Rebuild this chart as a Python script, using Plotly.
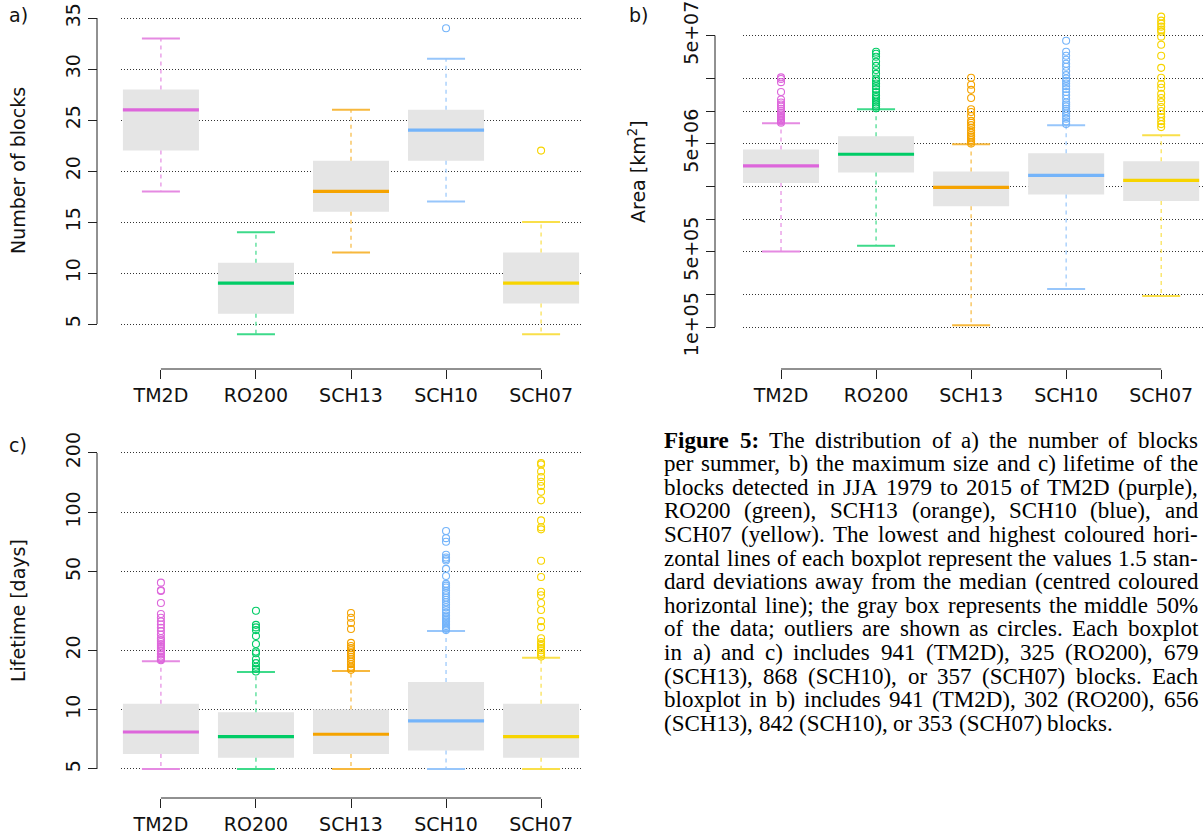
import math
import plotly.graph_objects as go

W, H = 1203, 837

cats = ["TM2D", "RO200", "SCH13", "SCH10", "SCH07"]
colors = ["#DD66DB", "#00CC66", "#F5A300", "#74B4FA", "#F7D400"]
whisker_colors = ["#E58AE2", "#3DDA8A", "#F7B83D", "#97C6FB", "#F9DF4A"]

# ---- panel a: number of blocks per summer ----
a_low = [18, 4, 12, 17, 4]
a_q1 = [22, 6, 16, 21, 7]
a_med = [26, 9, 18, 24, 9]
a_q3 = [28, 11, 21, 26, 12]
a_high = [33, 14, 26, 31, 15]
a_out = [[], [], [], [34], [22]]
a_ticks = [5, 10, 15, 20, 25, 30, 35]

# ---- panel b: maximum area [km2] ----
b_low = [5.0e5, 5.66e5, 1.04e5, 2.25e5, 1.94e5]
b_q1 = [2.16e6, 2.7e6, 1.31e6, 1.69e6, 1.47e6]
b_med = [3.1e6, 3.98e6, 1.96e6, 2.54e6, 2.28e6]
b_q3 = [4.4e6, 5.85e6, 2.76e6, 4.07e6, 3.43e6]
b_high = [7.7e6, 1.04e7, 4.93e6, 7.4e6, 5.98e6]
b_out = [
    [7.8e6, 8.0e6, 8.2e6, 8.4e6, 8.6e6, 8.8e6, 9.0e6, 9.3e6, 9.6e6, 1.0e7, 1.05e7,
     1.1e7, 1.15e7, 1.2e7, 1.28e7, 1.5e7, 1.85e7, 1.98e7, 2.05e7],
    [1.06e7, 1.1e7, 1.15e7, 1.2e7, 1.25e7, 1.3e7, 1.35e7, 1.4e7, 1.5e7, 1.6e7, 1.7e7,
     1.8e7, 1.9e7, 2.0e7, 2.21e7, 2.4e7, 2.62e7, 2.86e7, 3.18e7, 3.39e7, 3.54e7],
    [5.0e6, 5.2e6, 5.4e6, 5.6e6, 5.8e6, 6.0e6, 6.3e6, 6.6e6, 7.0e6, 7.4e6, 7.8e6,
     8.1e6, 9.0e6, 9.8e6, 1.04e7, 1.32e7, 1.57e7, 1.75e7, 2.03e7],
    [7.6e6, 8.0e6, 8.5e6, 9.0e6, 9.5e6, 1.0e7, 1.05e7, 1.1e7, 1.15e7, 1.2e7, 1.3e7,
     1.4e7, 1.5e7, 1.6e7, 1.7e7, 1.8e7, 1.9e7, 2.0e7, 2.15e7, 2.35e7, 2.57e7, 2.74e7,
     2.98e7, 3.25e7, 3.54e7, 4.48e7],
    [7.1e6, 7.57e6, 8.07e6, 8.8e6, 9.38e6, 1.0e7, 1.09e7, 1.21e7, 1.32e7, 1.44e7,
     1.64e7, 1.78e7, 2.03e7, 2.51e7, 3.25e7, 4.11e7, 4.88e7, 5.43e7, 5.67e7, 6.04e7,
     6.45e7, 6.87e7, 7.49e7],
]
b_major_ticks = [1e5, 5e5, 5e6, 5e7]
b_major_text = ["1e+05", "5e+05", "5e+06", "5e+07"]
b_minor_ticks = [2e5, 1e6, 2e6, 1e7, 2e7]

# ---- panel c: lifetime [days] ----
c_low = [5, 5, 5, 5, 5]
c_q1 = [5.96, 5.7, 5.96, 6.2, 5.7]
c_med = [7.7, 7.3, 7.5, 8.76, 7.3]
c_q3 = [10.7, 9.7, 10.0, 13.8, 10.7]
c_high = [17.6, 15.5, 15.7, 25.0, 18.3]
c_out = [
    [17.8, 18.0, 18.3, 18.6, 19.0, 19.3, 19.7, 20.0, 20.5, 21.0, 21.5, 22.0, 22.5,
     23.0, 24.0, 25.0, 26.0, 27.0, 28.0, 29.2, 30.5, 34.7, 39.9, 40.3, 44.0],
    [15.6, 16.1, 16.5, 17.2, 18.0, 19.3, 19.7, 21.5, 23.6, 25.3, 26.1, 26.9, 31.7],
    [15.9, 16.2, 16.5, 17.0, 17.5, 18.0, 18.5, 19.0, 19.5, 20.0, 20.5, 21.0, 21.8,
     25.6, 27.5, 29.2, 30.9],
    [25.3, 25.7, 26.0, 26.5, 27.0, 27.5, 28.0, 28.5, 29.0, 29.5, 30.0, 31.0, 32.0,
     33.0, 34.0, 35.0, 36.0, 37.0, 38.0, 39.0, 40.0, 41.6, 42.5, 43.4, 47.6, 51.7,
     57.0, 58.0, 59.0, 61.0, 71.0, 74.0, 80.5],
    [18.6, 19.0, 19.4, 20.0, 20.5, 21.0, 21.5, 22.0, 23.0, 26.2, 28.1, 32.0, 34.7,
     38.0, 39.6, 47.0, 56.8, 82.0, 84.0, 91.0, 115.0, 127.0, 136.0, 143.0, 151.0,
     161.0, 175.0, 178.0],
]
c_ticks = [5, 10, 20, 50, 100, 200]

caption_lines = [
    "**Figure **5: The distribution of a) the number of blocks",
    "per summer, b) the maximum size and c) lifetime of the",
    "blocks detected in JJA 1979 to 2015 of TM2D (purple),",
    "RO200 (green), SCH13 (orange), SCH10 (blue), and",
    "SCH07 (yellow). The lowest and highest coloured hori-",
    "zontal lines of each boxplot represent the values 1.5 stan-",
    "dard deviations away from the median (centred coloured",
    "horizontal line); the gray box represents the middle 50%",
    "of the data; outliers are shown as circles. Each boxplot",
    "in a) and c) includes 941 (TM2D), 325 (RO200), 679",
    "(SCH13), 868 (SCH10), or 357 (SCH07) blocks. Each",
    "bloxplot in b) includes 941 (TM2D), 302 (RO200), 656",
    "(SCH13), 842 (SCH10), or 353 (SCH07) blocks.",
]
caption_bold_words = 2  # "Figure 5:" is bold


def PX(p):
    return p / W


def PY(p):
    return 1 - p / H


SANS = "DejaVu Sans"
SERIF = "Liberation Serif"
AX = "#222222"
HW = 0.4   # half box width
CW = 0.2   # half cap width

panels = [
    dict(xa="x", ya="y", low=a_low, q1=a_q1, med=a_med, q3=a_q3, high=a_high, out=a_out,
         xdom=(121, 581), xrng=(-0.42, 4.42), xpos=369,
         ydom=(346.44, 15.96), yrng=(2.8, 35.2), ytype="linear", ypos=97,
         ticks=a_ticks, ticktext=[str(t) for t in a_ticks], minor=None),
    dict(xa="x2", ya="y2", low=b_low, q1=b_q1, med=b_med, q3=b_q3, high=b_high, out=b_out,
         xdom=(743, 1203), xrng=(-0.4, 4.44), xpos=369,
         ydom=(337.2, 4.1), yrng=(4.906, 7.99), ytype="log", ypos=715,
         ticks=b_major_ticks, ticktext=b_major_text, minor=b_minor_ticks),
    dict(xa="x3", ya="y3", low=c_low, q1=c_q1, med=c_med, q3=c_q3, high=c_high, out=c_out,
         xdom=(121, 581), xrng=(-0.42, 4.42), xpos=798,
         ydom=(781.2, 450.8), yrng=(0.637, 2.312), ytype="log", ypos=97,
         ticks=c_ticks, ticktext=[str(t) for t in c_ticks], minor=None),
]

fig = go.Figure()
shapes = []
layout = {}

for k, p in enumerate(panels):
    xa, ya = p["xa"], p["ya"]
    for i, name in enumerate(cats):
        col = colors[i]
        wcol = whisker_colors[i]
        fig.add_trace(go.Scatter(
            x=[i - HW, i + HW, i + HW, i - HW, i - HW],
            y=[p["q1"][i], p["q1"][i], p["q3"][i], p["q3"][i], p["q1"][i]],
            fill="toself", fillcolor="#E5E5E5", mode="lines",
            line=dict(width=0, color="rgba(0,0,0,0)"),
            xaxis=xa, yaxis=ya, hoverinfo="skip", showlegend=False))
        fig.add_trace(go.Scatter(
            x=[i, i, None, i, i],
            y=[p["q3"][i], p["high"][i], None, p["q1"][i], p["low"][i]],
            mode="lines", line=dict(color=wcol, width=1.2, dash="4px,4px"),
            xaxis=xa, yaxis=ya, hoverinfo="skip", showlegend=False))
        fig.add_trace(go.Scatter(
            x=[i - CW, i + CW, None, i - CW, i + CW],
            y=[p["high"][i], p["high"][i], None, p["low"][i], p["low"][i]],
            mode="lines", line=dict(color=wcol, width=2),
            xaxis=xa, yaxis=ya, hoverinfo="skip", showlegend=False))
        fig.add_trace(go.Scatter(
            x=[i - HW, i + HW], y=[p["med"][i], p["med"][i]],
            mode="lines", line=dict(color=col, width=3.2),
            xaxis=xa, yaxis=ya, hoverinfo="skip", showlegend=False))
        if p["out"][i]:
            fig.add_trace(go.Scatter(
                x=[i] * len(p["out"][i]), y=p["out"][i], mode="markers",
                marker=dict(symbol="circle-open", size=7, color=col, line=dict(width=1.1)),
                xaxis=xa, yaxis=ya, hoverinfo="skip", showlegend=False))

    xkey = "xaxis" + xa[1:]
    ykey = "yaxis" + ya[1:]
    layout[xkey] = dict(
        domain=[PX(p["xdom"][0]), PX(p["xdom"][1])], range=list(p["xrng"]),
        anchor="free", position=PY(p["xpos"]), automargin=False,
        tickmode="array", tickvals=list(range(len(cats))), ticktext=cats,
        ticks="outside", ticklen=9, tickwidth=1, tickcolor=AX,
        showline=False, showgrid=False, zeroline=False,
        tickfont=dict(family=SANS, size=19, color="#111111"))
    yax = dict(
        domain=[PY(p["ydom"][0]), PY(p["ydom"][1])], range=list(p["yrng"]),
        type=p["ytype"], anchor="free", position=PX(p["ypos"]), automargin=False,
        tickmode="array", tickvals=p["ticks"], ticktext=p["ticktext"],
        ticks="outside", ticklen=9, tickwidth=1, tickcolor=AX, tickangle=-90,
        showline=False, showgrid=True, gridcolor="#333333", gridwidth=1,
        griddash="1px,2px", zeroline=False,
        tickfont=dict(family=SANS, size=19, color="#111111"))
    if p["minor"]:
        yax["minor"] = dict(tickmode="array", tickvals=p["minor"], ticks="outside",
                            ticklen=9, tickwidth=1, tickcolor=AX, showgrid=True,
                            gridcolor="#333333", gridwidth=1, griddash="1px,2px")
    layout[ykey] = yax

    shapes.append(dict(type="line", xref=xa, yref="paper",
                       x0=0, x1=len(cats) - 1, y0=PY(p["xpos"]), y1=PY(p["xpos"]),
                       line=dict(color=AX, width=1)))
    r0, r1 = p["yrng"]
    allt = list(p["ticks"]) + list(p["minor"] or [])
    if p["ytype"] == "log":
        f = lambda v: (math.log10(v) - r0) / (r1 - r0)
    else:
        f = lambda v: (v - r0) / (r1 - r0)
    shapes.append(dict(type="line", xref="paper", yref=ya + " domain",
                       x0=PX(p["ypos"]), x1=PX(p["ypos"]),
                       y0=f(min(allt)), y1=f(max(allt)),
                       line=dict(color=AX, width=1)))

annotations = []
for txt, x, y in [("a)", 18, 15), ("b)", 638, 15), ("c)", 18, 445)]:
    annotations.append(dict(text=txt, x=PX(x), y=PY(y), xref="paper", yref="paper",
                            showarrow=False, xanchor="center", yanchor="middle",
                            font=dict(family=SANS, size=19, color="#111111")))
for txt, x, y in [("Number of blocks", 18, 171), ("Area [km<sup>2</sup>]", 637, 172),
                  ("Lifetime [days]", 18, 611)]:
    annotations.append(dict(text=txt, x=PX(x), y=PY(y), xref="paper", yref="paper",
                            showarrow=False, xanchor="center", yanchor="middle",
                            textangle=-90,
                            font=dict(family=SANS, size=19, color="#111111")))

# --- justified caption (Times-compatible advance widths, 1/1000 em) ---
TW = {' ': 250, '%': 833, '(': 333, ')': 333, ',': 250, '-': 333, '.': 250,
      ':': 278, ';': 278,
      'A': 722, 'B': 667, 'C': 667, 'D': 722, 'E': 611, 'F': 556, 'G': 722, 'H': 722,
      'I': 333, 'J': 389, 'K': 722, 'L': 611, 'M': 889, 'N': 722, 'O': 722, 'P': 556,
      'Q': 722, 'R': 667, 'S': 556, 'T': 611, 'U': 722, 'V': 722, 'W': 944, 'X': 722,
      'Y': 722, 'Z': 611,
      'a': 444, 'b': 500, 'c': 444, 'd': 500, 'e': 444, 'f': 333, 'g': 500, 'h': 500,
      'i': 278, 'j': 278, 'k': 500, 'l': 278, 'm': 778, 'n': 500, 'o': 500, 'p': 500,
      'q': 500, 'r': 333, 's': 389, 't': 278, 'u': 500, 'v': 500, 'w': 722, 'x': 500,
      'y': 500, 'z': 444}
TWB = {'F': 611, 'i': 278, 'g': 500, 'u': 556, 'r': 444, 'e': 444, ':': 333}
CAP_SIZE = 23
CAP_LEFT, CAP_RIGHT = 664, 1198
CAP_TOP, CAP_STEP = 440, 23.6


def wwidth(word, bold):
    tot = 0
    for ch in word:
        if bold and ch in TWB:
            tot += TWB[ch]
        elif ch.isdigit():
            tot += 500
        else:
            tot += TW.get(ch, 500)
    return tot / 1000 * CAP_SIZE


for k, line in enumerate(caption_lines):
    words = line.replace("**", "").split(" ")
    bolds = [k == 0 and j < caption_bold_words for j in range(len(words))]
    widths = [wwidth(w, b) for w, b in zip(words, bolds)]
    space = TW[' '] / 1000 * CAP_SIZE
    last = (k == len(caption_lines) - 1)
    if not last and len(words) > 1:
        space = (CAP_RIGHT - CAP_LEFT - sum(widths)) / (len(words) - 1)
    x = CAP_LEFT
    y = CAP_TOP + k * CAP_STEP
    for w, b, wd in zip(words, bolds, widths):
        annotations.append(dict(text=("<b>%s</b>" % w) if b else w, x=PX(x), y=PY(y),
                                xref="paper", yref="paper", showarrow=False,
                                xanchor="left", yanchor="middle", borderpad=0,
                                borderwidth=0,
                                font=dict(family=SERIF, size=CAP_SIZE, color="#000000")))
        x += wd + space

fig.update_layout(
    width=W, height=H, margin=dict(l=0, r=0, t=0, b=0, autoexpand=False),
    paper_bgcolor="white", plot_bgcolor="white",
    showlegend=False, shapes=shapes, annotations=annotations,
    **layout)

fig.write_html("out.html")
